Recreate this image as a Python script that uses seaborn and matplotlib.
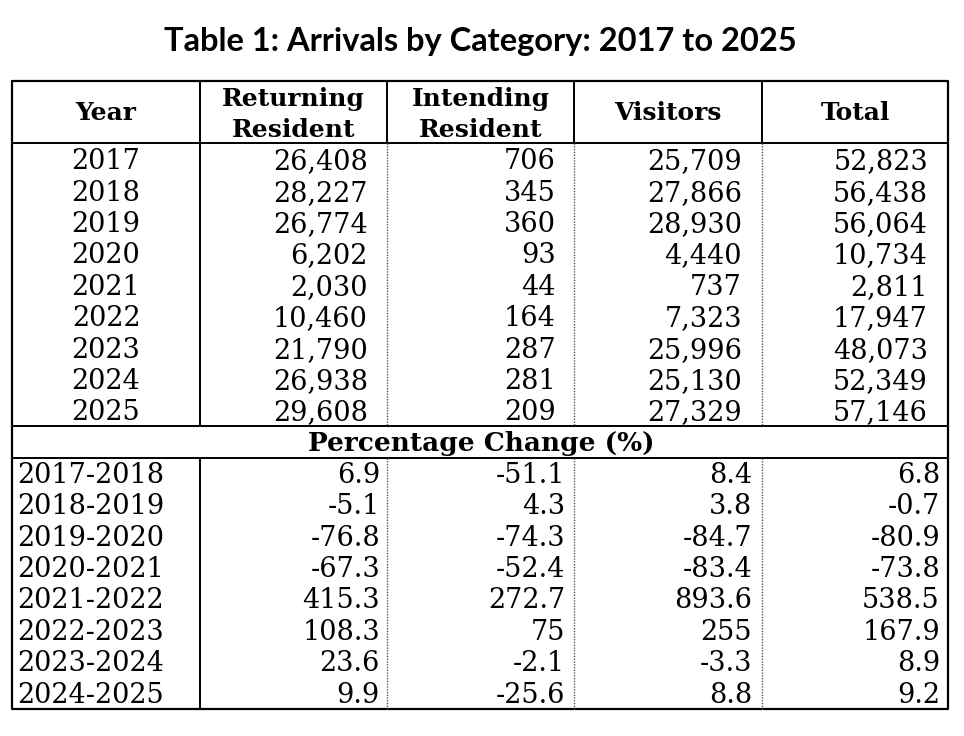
import matplotlib.pyplot as plt
import seaborn as sns

# Data
years = ["2017", "2018", "2019", "2020", "2021", "2022", "2023", "2024", "2025"]
returning = ["26,408", "28,227", "26,774", "6,202", "2,030", "10,460", "21,790", "26,938", "29,608"]
intending = ["706", "345", "360", "93", "44", "164", "287", "281", "209"]
visitors = ["25,709", "27,866", "28,930", "4,440", "737", "7,323", "25,996", "25,130", "27,329"]
total = ["52,823", "56,438", "56,064", "10,734", "2,811", "17,947", "48,073", "52,349", "57,146"]

periods = ["2017-2018", "2018-2019", "2019-2020", "2020-2021",
           "2021-2022", "2022-2023", "2023-2024", "2024-2025"]
pct_returning = ["6.9", "-5.1", "-76.8", "-67.3", "415.3", "108.3", "23.6", "9.9"]
pct_intending = ["-51.1", "4.3", "-74.3", "-52.4", "272.7", "75", "-2.1", "-25.6"]
pct_visitors = ["8.4", "3.8", "-84.7", "-83.4", "893.6", "255", "-3.3", "8.8"]
pct_total = ["6.8", "-0.7", "-80.9", "-73.8", "538.5", "167.9", "8.9", "9.2"]

headers = [["Year"], ["Returning", "Resident"], ["Intending", "Resident"], ["Visitors"], ["Total"]]

sns.set_style("white")
plt.rcParams["text.color"] = "black"

fig = plt.figure(figsize=(9.64, 7.36), dpi=100)
ax = fig.add_axes([0, 0, 1, 1])
ax.set_xlim(0, 964)
ax.set_ylim(736, 0)
ax.axis("off")

# layout (pixels)
edges = [12, 200, 387, 574, 762, 948]
top, head_bot = 81, 143
row_h = 31.4
data_bot = head_bot + row_h * len(years)
pct_head_bot = data_bot + 32
bottom = pct_head_bot + row_h * len(periods)

serif = "DejaVu Serif"
fs = 19.5

ax.text(480, 51, "Table 1: Arrivals by Category: 2017 to 2025", ha="center", va="baseline",
        fontsize=23.5, fontweight="bold", family="Lato")

# header
for i, h in enumerate(headers):
    cx = (edges[i] + edges[i + 1]) / 2
    base = [120.5] if len(h) == 1 else [106, 137]
    for line, b in zip(h, base):
        ax.text(cx, b, line, ha="center", va="baseline", fontsize=18,
                fontweight="bold", family=serif)

# data rows
cols = [returning, intending, visitors, total]
pads = [19, 18, 20, 20]
for r, y in enumerate(years):
    cy = head_bot + row_h * (r + 0.5) + 10.5
    ax.text(106, cy, y, ha="center", va="baseline", fontsize=fs, family=serif)
    for c, vals in enumerate(cols):
        ax.text(edges[c + 2] - pads[c], cy, vals[r], ha="right", va="baseline",
                fontsize=fs, family=serif)

ax.text(481, 451.5, "Percentage Change (%)", ha="center", va="baseline",
        fontsize=19, fontweight="bold", family=serif)

pcols = [pct_returning, pct_intending, pct_visitors, pct_total]
ppads = [7, 9, 10, 8]
for r, p in enumerate(periods):
    cy = pct_head_bot + row_h * (r + 0.5) + 9.5
    ax.text(17, cy, p, ha="left", va="baseline", fontsize=fs, family=serif)
    for c, vals in enumerate(pcols):
        ax.text(edges[c + 2] - ppads[c], cy, vals[r], ha="right", va="baseline",
                fontsize=fs, family=serif)

# grid lines
ax.plot([edges[0], edges[-1], edges[-1], edges[0], edges[0]],
        [top, top, bottom, bottom, top], color="black", lw=1.6)
for y in [head_bot, data_bot, pct_head_bot]:
    ax.plot([edges[0], edges[-1]], [y, y], color="black", lw=1.4)
# header verticals solid
for x in edges[1:-1]:
    ax.plot([x, x], [top, head_bot], color="black", lw=1.4)
# first column separator solid
ax.plot([edges[1]] * 2, [head_bot, data_bot], color="black", lw=1.4)
ax.plot([edges[1]] * 2, [pct_head_bot, bottom], color="black", lw=1.4)
# others dotted
for x in edges[2:-1]:
    ax.plot([x, x], [head_bot, data_bot], color="#555555", lw=1.0, ls=(0, (1, 1)))
    ax.plot([x, x], [pct_head_bot, bottom], color="#555555", lw=1.0, ls=(0, (1, 1)))

fig.savefig("out.png", dpi=100)
